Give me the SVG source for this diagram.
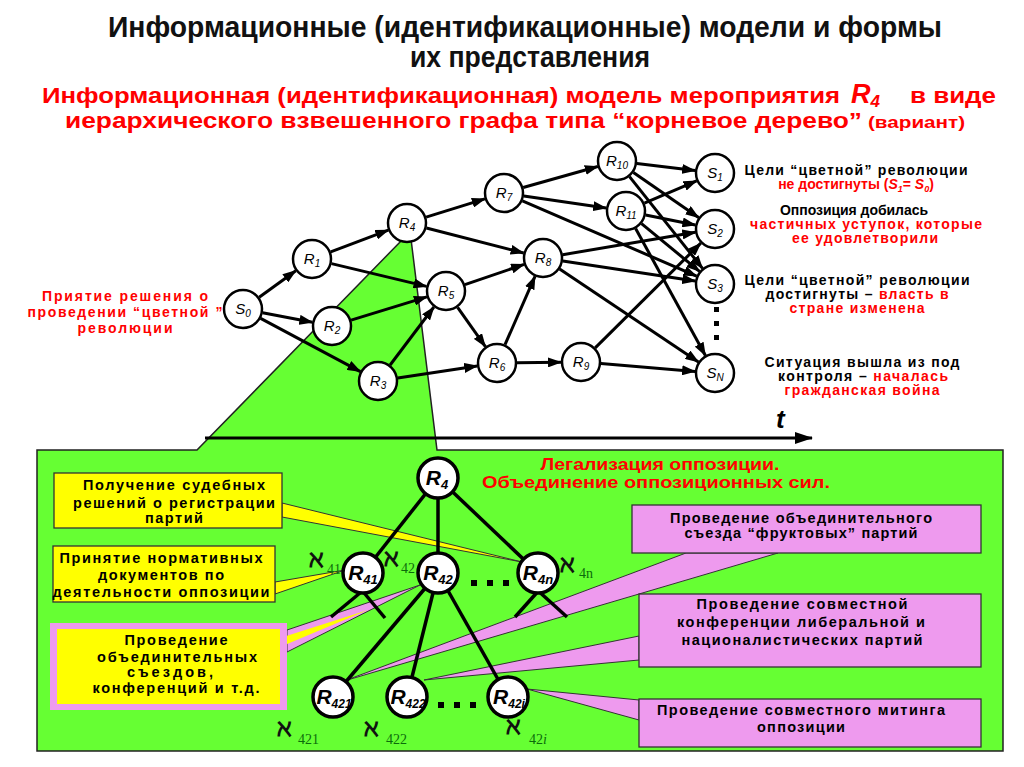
<svg xmlns="http://www.w3.org/2000/svg" width="1024" height="767" viewBox="0 0 1024 767">
<defs>
<marker id="ah" viewBox="0 0 14 10" refX="13" refY="5" markerWidth="14" markerHeight="10" markerUnits="userSpaceOnUse" orient="auto"><path d="M0,0 L14,5 L0,10 z" fill="#000"/></marker>
<marker id="axah" viewBox="0 0 18 12" refX="17" refY="6" markerWidth="18" markerHeight="12" markerUnits="userSpaceOnUse" orient="auto"><path d="M0,0 L18,6 L0,12 z" fill="#000"/></marker>
<style>
text{font-family:"Liberation Sans",Arial,sans-serif}
.title{font-size:30px;font-weight:bold;fill:#111}
.red{font-weight:bold;fill:#ff0000}
.lbl{font-weight:bold;font-size:14px;text-anchor:middle;fill:#000}
.r{fill:#ff0000}
.bx{font-weight:bold;font-size:14.5px;text-anchor:middle;fill:#000}
.tn circle{fill:#fff;stroke:#000;stroke-width:2.5}
.tn text{font-style:italic;font-size:15px;text-anchor:middle;fill:#000}
.ln circle{fill:#fff;stroke:#000;stroke-width:3.5}
.ln text{font-style:italic;font-weight:bold;font-size:21px;text-anchor:middle;fill:#000}
.edges line{stroke:#000;stroke-width:3;marker-end:url(#ah)}
.tree line{stroke:#000;stroke-width:3.5}
.yw{fill:#ffff00;stroke:#333;stroke-width:1}
.pw{fill:#ee9aee;stroke:#333;stroke-width:1}
.al{font-family:"DejaVu Serif",serif;font-weight:bold;font-size:24px;fill:#111}
.as{font-family:"Liberation Serif",serif;font-size:14px;fill:#0b6b0b}
.dot{fill:#000}
</style>
</defs>
<rect width="1024" height="767" fill="#fff"/>

<!-- Titles -->
<text class="title" x="108" y="37" textLength="834" lengthAdjust="spacingAndGlyphs">Информационные (идентификационные) модели и формы</text>
<text class="title" x="410" y="67" textLength="240" lengthAdjust="spacingAndGlyphs">их представления</text>
<text class="red" x="42" y="103" font-size="22" textLength="798" lengthAdjust="spacingAndGlyphs">Информационная (идентификационная) модель мероприятия</text>
<text class="red" x="851" y="103" font-size="27" font-style="italic">R<tspan font-size="17" dy="4">4</tspan></text>
<text class="red" x="910" y="103" font-size="22" textLength="86" lengthAdjust="spacingAndGlyphs">в виде</text>
<text class="red" x="65" y="128" font-size="22" textLength="797" lengthAdjust="spacingAndGlyphs">иерархического взвешенного графа типа “корневое дерево”</text>
<text class="red" x="868" y="128" font-size="16" textLength="97" lengthAdjust="spacingAndGlyphs">(вариант)</text>

<!-- Green panel with wedge toward R4 -->
<polygon points="37,450 197,450 403,239 411,239 437,450 1003,450 1003,751 37,751" fill="#66ff33" stroke="#222" stroke-width="1.5"/>

<!-- time axis -->
<line x1="205" y1="438" x2="812" y2="438" stroke="#000" stroke-width="3" marker-end="url(#axah)"/>
<text x="776" y="428" font-size="26" font-weight="bold" font-style="italic">t</text>

<!-- Left label -->
<text class="lbl r" x="125" y="301" textLength="166" lengthAdjust="spacing">Приятие решения о</text>
<text class="lbl r" x="125" y="317" textLength="195" lengthAdjust="spacing">проведении “цветной ”</text>
<text class="lbl r" x="125" y="333" textLength="95" lengthAdjust="spacing">революции</text>

<!-- Right labels -->
<text class="lbl" x="856" y="175" textLength="223" lengthAdjust="spacing">Цели “цветной” революции</text>
<text class="lbl r" x="856" y="189">не достигнуты (<tspan font-style="italic">S</tspan><tspan font-style="italic" font-size="9" dy="3">1</tspan><tspan dy="-3">= </tspan><tspan font-style="italic">S</tspan><tspan font-style="italic" font-size="9" dy="3">0</tspan><tspan dy="-3">)</tspan></text>
<text class="lbl" x="854" y="215" textLength="148" lengthAdjust="spacing">Оппозиция добилась</text>
<text class="lbl r" x="866" y="229" textLength="232" lengthAdjust="spacing">частичных уступок, которые</text>
<text class="lbl r" x="865" y="243" textLength="146" lengthAdjust="spacing">ее удовлетворили</text>
<text class="lbl" x="857" y="285" textLength="225" lengthAdjust="spacing">Цели “цветной” революции</text>
<text class="lbl" x="857" y="299" textLength="183" lengthAdjust="spacing">достигнуты – <tspan class="r">власть в</tspan></text>
<text class="lbl r" x="857" y="313" textLength="135" lengthAdjust="spacing">стране изменена</text>
<text class="lbl" x="862" y="367" textLength="195" lengthAdjust="spacing">Ситуация вышла из под</text>
<text class="lbl" x="863" y="381" textLength="170" lengthAdjust="spacing">контроля – <tspan class="r">началась</tspan></text>
<text class="lbl r" x="862" y="395" textLength="155" lengthAdjust="spacing">гражданская война</text>

<!-- Top graph connectors -->
<g id="connectors" class="edges">
<line x1="259.2" y1="297.3" x2="295.8" y2="270.7"/>
<line x1="262.6" y1="312.8" x2="312.4" y2="322.2"/>
<line x1="260.6" y1="318.4" x2="360.4" y2="371.6"/>
<line x1="330.7" y1="251.9" x2="388.3" y2="230.1"/>
<line x1="331.5" y1="263.6" x2="426.5" y2="286.4"/>
<line x1="351.1" y1="320.1" x2="426.9" y2="296.9"/>
<line x1="390.1" y1="365.0" x2="433.9" y2="307.0"/>
<line x1="397.8" y1="378.0" x2="477.2" y2="366.0"/>
<line x1="426.1" y1="217.1" x2="484.9" y2="198.9"/>
<line x1="426.4" y1="228.0" x2="523.6" y2="253.0"/>
<line x1="464.9" y1="284.6" x2="524.1" y2="264.4"/>
<line x1="457.6" y1="307.3" x2="485.4" y2="346.7"/>
<line x1="505.0" y1="344.7" x2="535.0" y2="276.3"/>
<line x1="517" y1="362.8" x2="561" y2="362.2"/>
<line x1="523.2" y1="187.5" x2="597.8" y2="166.5"/>
<line x1="523.8" y1="195.9" x2="606.2" y2="208.1"/>
<line x1="522.4" y1="200.9" x2="696.6" y2="276.1"/>
<line x1="562.7" y1="254.7" x2="695.3" y2="232.3"/>
<line x1="562.8" y1="261.0" x2="695.2" y2="281.0"/>
<line x1="559.6" y1="269.1" x2="698.4" y2="361.9"/>
<line x1="595.2" y1="347.9" x2="700.8" y2="243.1"/>
<line x1="600.9" y1="363.6" x2="695.1" y2="371.4"/>
<line x1="636.9" y1="163.4" x2="695.1" y2="170.6"/>
<line x1="633.4" y1="172.4" x2="698.6" y2="217.6"/>
<line x1="629.5" y1="176.6" x2="702.5" y2="268.4"/>
<line x1="644.4" y1="203.1" x2="696.6" y2="180.9"/>
<line x1="645.6" y1="215.0" x2="695.4" y2="225.0"/>
<line x1="641.5" y1="223.7" x2="699.5" y2="271.3"/>
<line x1="635.6" y1="228.5" x2="705.4" y2="355.5"/>
</g>

<!-- Top graph nodes -->
<g id="S0" class="tn"><circle cx="243" cy="309" r="19"/><text x="243" y="314">S<tspan font-size="10" dy="3">0</tspan></text></g>
<g id="R1" class="tn"><circle cx="312" cy="259" r="19"/><text x="312" y="264">R<tspan font-size="10" dy="3">1</tspan></text></g>
<g id="R2" class="tn"><circle cx="332" cy="326" r="19"/><text x="332" y="331">R<tspan font-size="10" dy="3">2</tspan></text></g>
<g id="R3" class="tn"><circle cx="378" cy="381" r="19"/><text x="378" y="386">R<tspan font-size="10" dy="3">3</tspan></text></g>
<g id="R4" class="tn"><circle cx="407" cy="223" r="19"/><text x="407" y="228">R<tspan font-size="10" dy="3">4</tspan></text></g>
<g id="R5" class="tn"><circle cx="446" cy="291" r="19"/><text x="446" y="296">R<tspan font-size="10" dy="3">5</tspan></text></g>
<g id="R6" class="tn"><circle cx="497" cy="363" r="19"/><text x="497" y="368">R<tspan font-size="10" dy="3">6</tspan></text></g>
<g id="R7" class="tn"><circle cx="504" cy="193" r="19"/><text x="504" y="198">R<tspan font-size="10" dy="3">7</tspan></text></g>
<g id="R8" class="tn"><circle cx="543" cy="258" r="19"/><text x="543" y="263">R<tspan font-size="10" dy="3">8</tspan></text></g>
<g id="R9" class="tn"><circle cx="581" cy="362" r="19"/><text x="581" y="367">R<tspan font-size="10" dy="3">9</tspan></text></g>
<g id="R10" class="tn"><circle cx="617" cy="161" r="19"/><text x="617" y="166">R<tspan font-size="10" dy="3">10</tspan></text></g>
<g id="R11" class="tn"><circle cx="626" cy="211" r="19"/><text x="626" y="216">R<tspan font-size="10" dy="3">11</tspan></text></g>
<g id="S1" class="tn"><circle cx="715" cy="173" r="19"/><text x="715" y="178">S<tspan font-size="10" dy="3">1</tspan></text></g>
<g id="S2" class="tn"><circle cx="715" cy="229" r="19"/><text x="715" y="234">S<tspan font-size="10" dy="3">2</tspan></text></g>
<g id="S3" class="tn"><circle cx="715" cy="284" r="19"/><text x="715" y="289">S<tspan font-size="10" dy="3">3</tspan></text></g>
<g id="SN" class="tn"><circle cx="715" cy="373" r="19"/><text x="715" y="378">S<tspan font-size="10" dy="3">N</tspan></text></g>
<rect class="dot" x="714" y="307" width="5" height="5"/>
<rect class="dot" x="714" y="321" width="5" height="5"/>
<rect class="dot" x="714" y="335" width="5" height="5"/>

<!-- Lower panel heading -->
<text class="red" x="660" y="470" font-size="16" text-anchor="middle" textLength="239" lengthAdjust="spacingAndGlyphs">Легализация оппозиции.</text>
<text class="red" x="656" y="488" font-size="16" text-anchor="middle" textLength="348" lengthAdjust="spacingAndGlyphs">Объединение оппозиционных сил.</text>

<!-- Callout wedges -->
<g id="wedges">
<polygon class="yw" points="282,503 282,517 522,562"/>
<polygon class="yw" points="275,582 275,594 345,570"/>
<polygon class="pw" points="287,630 287,652 420,585"/>
<polygon points="280,638 280,647 368,610" fill="#ffff00"/>
<polygon class="pw" points="686,553 778,553 344,681"/>
<polygon class="pw" points="639,636 639,660 424,680"/>
<polygon class="pw" points="639,700 639,720 527,689"/>
</g>

<!-- Callout boxes -->
<g id="box1"><rect x="54" y="473" width="228" height="55" fill="#ffff00" stroke="#333" stroke-width="1.3"/>
<text class="bx" x="174" y="490" textLength="182" lengthAdjust="spacing">Получение судебных</text>
<text class="bx" x="174" y="508" textLength="202" lengthAdjust="spacing">решений о регистрации</text>
<text class="bx" x="174" y="523" textLength="58" lengthAdjust="spacing">партий</text></g>
<g id="box2"><rect x="53" y="546" width="222" height="56" fill="#ffff00" stroke="#333" stroke-width="1.3"/>
<text class="bx" x="161" y="563" textLength="203" lengthAdjust="spacing">Принятие нормативных</text>
<text class="bx" x="161" y="580" textLength="126" lengthAdjust="spacing">документов по</text>
<text class="bx" x="161" y="597" textLength="217" lengthAdjust="spacing">деятельности оппозиции</text></g>
<g id="box3"><rect x="50" y="623" width="237" height="87" fill="#ee9aee"/>
<rect x="57" y="629" width="223" height="75" fill="#ffff00"/>
<text class="bx" x="176" y="645" textLength="103" lengthAdjust="spacing">Проведение</text>
<text class="bx" x="177" y="662" textLength="160" lengthAdjust="spacing">объединительных</text>
<text class="bx" x="170" y="677" textLength="86" lengthAdjust="spacing">съездов,</text>
<text class="bx" x="176" y="693" textLength="167" lengthAdjust="spacing">конференций и т.д.</text></g>
<g id="box4"><rect x="632" y="505" width="349" height="48" fill="#ee9aee" stroke="#333" stroke-width="1.3"/>
<text class="bx" x="801" y="523" textLength="262" lengthAdjust="spacing">Проведение объединительного</text>
<text class="bx" x="801" y="538" textLength="233" lengthAdjust="spacing">съезда “фруктовых” партий</text></g>
<g id="box5"><rect x="639" y="594" width="342" height="73" fill="#ee9aee" stroke="#333" stroke-width="1.3"/>
<text class="bx" x="802" y="609" textLength="211" lengthAdjust="spacing">Проведение совместной</text>
<text class="bx" x="801" y="627" textLength="248" lengthAdjust="spacing">конференции либеральной и</text>
<text class="bx" x="802" y="645" textLength="241" lengthAdjust="spacing">националистических партий</text></g>
<g id="box6"><rect x="639" y="699" width="342" height="48" fill="#ee9aee" stroke="#333" stroke-width="1.3"/>
<text class="bx" x="801" y="715" textLength="288" lengthAdjust="spacing">Проведение совместного митинга</text>
<text class="bx" x="801" y="732" textLength="88" lengthAdjust="spacing">оппозиции</text></g>

<!-- Tree connectors -->
<g id="tree" class="tree">
<line x1="438" y1="478" x2="363" y2="573"/>
<line x1="438" y1="478" x2="438" y2="573"/>
<line x1="438" y1="478" x2="538" y2="573"/>
<line x1="438" y1="573" x2="333" y2="697"/>
<line x1="438" y1="573" x2="407" y2="697"/>
<line x1="438" y1="573" x2="508" y2="697"/>
<line x1="366" y1="588" x2="331" y2="617" stroke-width="4"/>
<line x1="360" y1="588" x2="385" y2="618" stroke-width="4"/>
<line x1="541" y1="588" x2="515" y2="617" stroke-width="4"/>
<line x1="535" y1="588" x2="567" y2="617" stroke-width="4"/>
</g>

<!-- Tree nodes -->
<g id="T_R4" class="ln"><circle cx="438" cy="478" r="20"/><text x="437" y="485">R<tspan font-size="13" dy="4">4</tspan></text></g>
<g id="T_R41" class="ln"><circle cx="363" cy="573" r="20"/><text x="363" y="580">R<tspan font-size="13" dy="4">41</tspan></text></g>
<g id="T_R42" class="ln"><circle cx="438" cy="573" r="20"/><text x="438" y="580">R<tspan font-size="13" dy="4">42</tspan></text></g>
<g id="T_R4n" class="ln"><circle cx="538" cy="573" r="20"/><text x="538" y="580">R<tspan font-size="13" dy="4">4n</tspan></text></g>
<g id="T_R421" class="ln"><circle cx="333" cy="697" r="20"/><text x="334" y="704">R<tspan font-size="12" dy="4">421</tspan></text></g>
<g id="T_R422" class="ln"><circle cx="407" cy="697" r="20"/><text x="408" y="704">R<tspan font-size="12" dy="4">422</tspan></text></g>
<g id="T_R42i" class="ln"><circle cx="508" cy="697" r="20"/><text x="509" y="704">R<tspan font-size="12" dy="4">42i</tspan></text></g>

<rect class="dot" x="471" y="580" width="6" height="6"/>
<rect class="dot" x="487" y="580" width="6" height="6"/>
<rect class="dot" x="503" y="580" width="6" height="6"/>
<rect class="dot" x="438" y="702" width="6" height="6"/>
<rect class="dot" x="454" y="702" width="6" height="6"/>
<rect class="dot" x="470" y="702" width="6" height="6"/>

<!-- Weights -->
<text class="al" x="309" y="567">ℵ</text><text class="as" x="327" y="574">41</text>
<text class="al" x="384" y="566">ℵ</text><text class="as" x="401" y="573">42</text>
<text class="al" x="560" y="572">ℵ</text><text class="as" x="579" y="578">4n</text>
<text class="al" x="277" y="736" font-size="28">ℵ</text><text class="as" x="298" y="744" font-size="16">421</text>
<text class="al" x="364" y="736" font-size="28">ℵ</text><text class="as" x="386" y="744" font-size="16">422</text>
<text class="al" x="506" y="734" font-size="28">ℵ</text><text class="as" x="529" y="744" font-size="16">42<tspan font-style="italic">i</tspan></text>
</svg>
